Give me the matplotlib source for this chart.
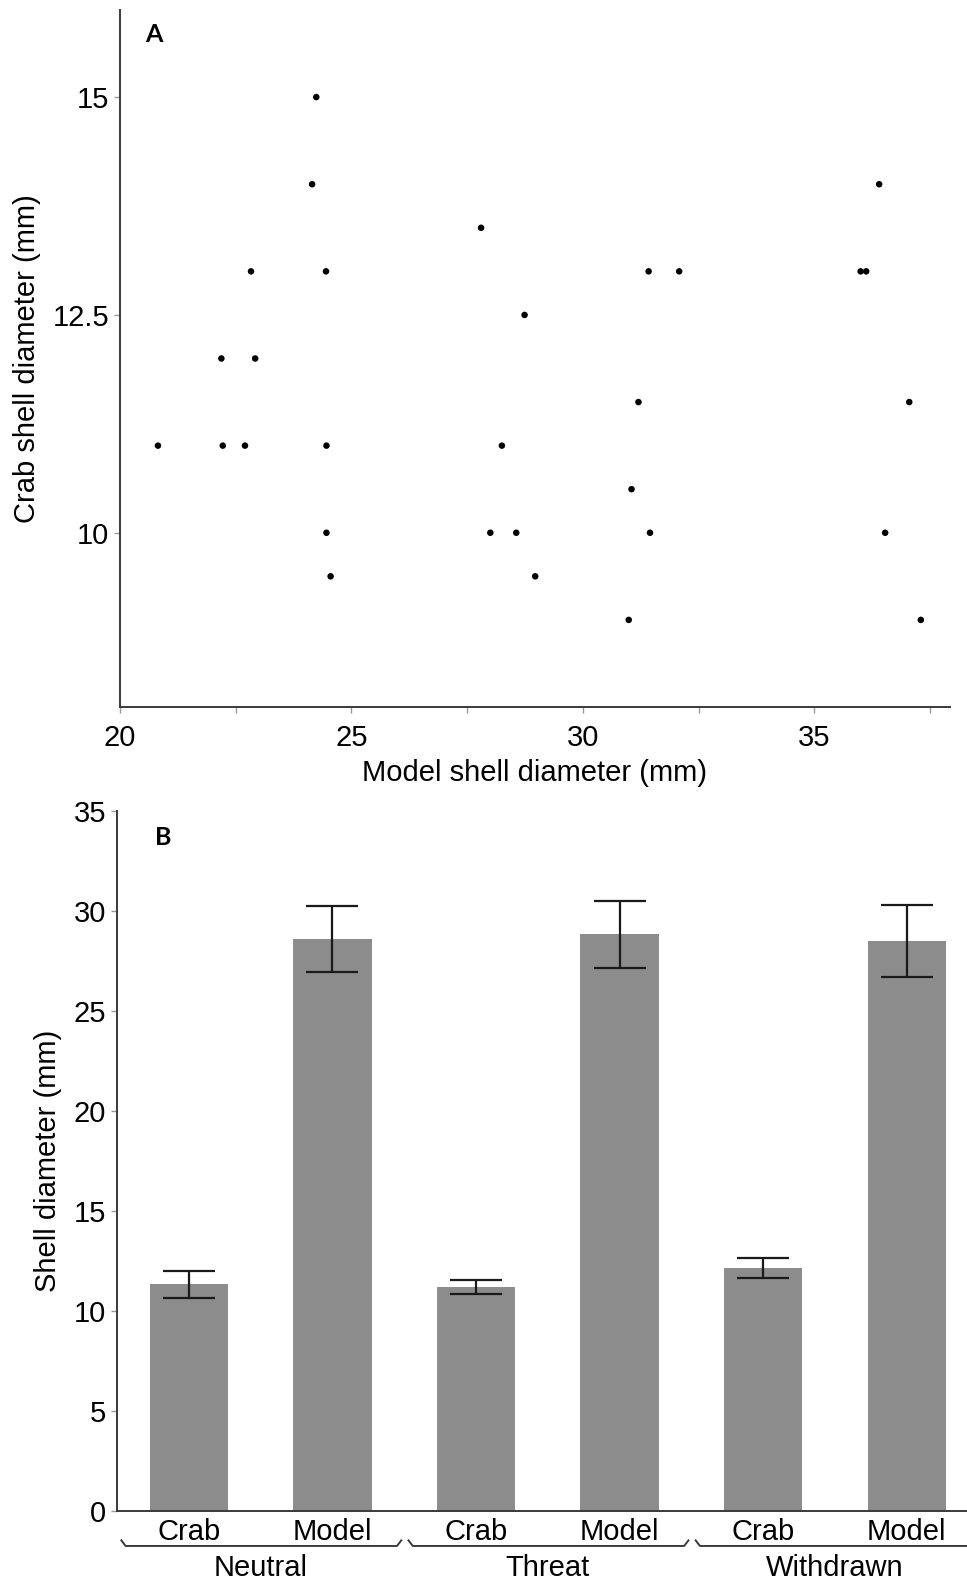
import matplotlib.pyplot as plt
import numpy as np
from matplotlib.transforms import blended_transform_factory

plt.rcParams['font.family'] = ['Liberation Sans', 'DejaVu Sans']

# panel A: model vs crab shell diameter (mm)
model_diam = [24.24, 24.15, 36.40, 27.80, 22.83, 24.45, 31.42, 32.08, 36.00, 36.12,
              28.74, 22.19, 22.92, 31.20, 37.05, 20.82, 22.22, 22.70, 24.46, 28.25,
              31.05, 24.46, 28.00, 28.56, 31.45, 36.53, 24.55, 28.97, 30.99, 37.30]
crab_diam = [15.0, 14.0, 14.0, 13.5, 13.0, 13.0, 13.0, 13.0, 13.0, 13.0,
             12.5, 12.0, 12.0, 11.5, 11.5, 11.0, 11.0, 11.0, 11.0, 11.0,
             10.5, 10.0, 10.0, 10.0, 10.0, 10.0, 9.5, 9.5, 9.0, 9.0]

# panel B: mean shell diameter by condition
groups = ["Neutral", "Threat", "Withdrawn"]
shell_types = ["Crab", "Model"]
means = [11.33, 28.60, 11.22, 28.83, 12.17, 28.50]
errs = [0.66, 1.65, 0.35, 1.67, 0.50, 1.80]

spine_c = "#3a3a3a"
tick_c = "#9a9a9a"
fs = 21

fig = plt.figure(figsize=(9.67, 15.81), dpi=100)

# ---- panel A ----
axA = fig.add_axes([0.1241, 0.5528, 0.8583, 0.4409])
axA.scatter(model_diam, crab_diam, s=22, c="black", edgecolors="none", zorder=3)
axA.set_xlim(20, 37.93)
axA.set_ylim(8, 16)
axA.set_xticks([20, 25, 30, 35])
axA.set_xticks([22.5, 27.5, 32.5, 37.5], minor=True)
axA.set_yticks([10, 12.5, 15])
axA.set_yticklabels(["10", "12.5", "15"])
for s in ["top", "right"]:
    axA.spines[s].set_visible(False)
for s in ["left", "bottom"]:
    axA.spines[s].set_color(spine_c)
    axA.spines[s].set_linewidth(1.4)
axA.tick_params(axis="both", which="both", color=tick_c, length=4, width=1,
                labelsize=fs)
axA.tick_params(axis="x", pad=8)
axA.tick_params(axis="y", pad=4)
axA.set_xlabel("Model shell diameter (mm)", fontsize=fs, labelpad=5)
axA.set_ylabel("Crab shell diameter (mm)", fontsize=fs, labelpad=8)
axA.text(0.03, 0.965, "A", transform=axA.transAxes, fontsize=18,
         fontweight="bold", family=["Lato", "DejaVu Sans"], va="center")

# ---- panel B ----
axB = fig.add_axes([0.121, 0.0443, 0.879, 0.4428])
x = np.arange(len(means))
axB.bar(x, means, width=0.545, color="#8c8c8c", zorder=2)
axB.errorbar(x, means, yerr=errs, fmt="none", ecolor="#1a1a1a",
             elinewidth=1.6, capsize=18.5, capthick=1.6, zorder=3)
axB.set_xlim(-0.5, 5.42)
axB.set_ylim(0, 35)
axB.set_yticks(np.arange(0, 36, 5))
axB.set_xticks(x)
axB.set_xticklabels(shell_types * len(groups))
for s in ["top", "right"]:
    axB.spines[s].set_visible(False)
for s in ["left", "bottom"]:
    axB.spines[s].set_color(spine_c)
    axB.spines[s].set_linewidth(1.4)
axB.tick_params(axis="y", color=tick_c, length=4, width=1, labelsize=fs, pad=4)
axB.tick_params(axis="x", length=0, labelsize=fs, pad=5)
axB.set_ylabel("Shell diameter (mm)", fontsize=fs, labelpad=8)
axB.text(0.045, 0.962, "B", transform=axB.transAxes, fontsize=18,
         fontweight="bold", family=["Lato", "DejaVu Sans"], va="center")

# group brackets under the tick labels
tr = blended_transform_factory(axB.transData, axB.transAxes)
yb = -0.05
hook = 0.008
for g, name in enumerate(groups):
    x0 = 2 * g - 0.47
    x1 = 2 * g + 1.48
    axB.plot([x0, x0 + 0.03, x1 - 0.03, x1], [yb + hook, yb, yb, yb + hook],
             transform=tr, color=spine_c, lw=1.4, clip_on=False)
    axB.text(2 * g + 0.5, -0.082, name, transform=tr, ha="center", va="center",
             fontsize=fs)

fig.savefig("out.png", dpi=100)
